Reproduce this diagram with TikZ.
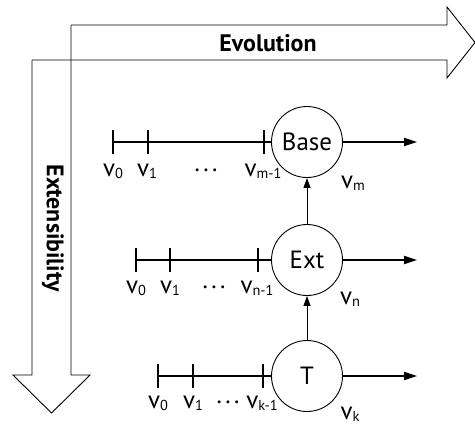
\documentclass[tikz,border=0pt]{standalone}
\usepackage{fontspec}
\setmainfont{PT Sans}
\usetikzlibrary{arrows.meta}
\newcommand{\vlab}[1]{v\raisebox{-2.5bp}{\fontsize{14.5}{14.5}\selectfont #1}}
\newcommand{\cdts}{\raisebox{5bp}{.\hspace{3.5bp}.\hspace{3.5bp}.}}
\begin{document}
\begin{tikzpicture}[x=1bp,y=-1bp,
  outline/.style={line width=0.9bp,line join=miter},
  circ/.style={circle,draw,line width=0.9bp,minimum size=71bp,inner sep=0pt,font=\fontsize{25}{25}\selectfont},
  tline/.style={line width=1.8bp},
  tick/.style={line width=1.8bp},
  outarrow/.style={line width=1.8bp,-{Triangle[length=13bp,width=8bp]}},
  uparrow/.style={line width=0.9bp,-{Triangle[length=10bp,width=7bp]}},
  vl/.style={anchor=base,font=\fontsize{25}{25}\selectfont,inner sep=0pt},
  big/.style={font=\fontsize{24}{24}\selectfont\bfseries,inner sep=0pt}
]
\useasboundingbox (0,0) rectangle (475,425);
% big arrows
\draw[outline] (71,25) -- (447,25) -- (447,7) -- (475,42.5) -- (447,78) -- (447,60) -- (32,60);
\draw[outline] (71,25) -- (71,375) -- (90,375) -- (51.5,413) -- (13,375) -- (32,375) -- (32,60);
\node[big,anchor=base] (evo) at (268,51) {Evolution};
\node[big,rotate=-90] (exts) at (53,228) {Extensibility};
% circles
\node[circ] (base) at (307,142) {Base};
\node[circ] (ext) at (307,260) {Ext};
\node[circ] (tn) at (307,376) {T};
% end coordinates
\coordinate (bend) at (417,142);
\coordinate (eend) at (417,260);
\coordinate (tend) at (417,376);
% base row
\coordinate (b0) at (113,142);
\coordinate (b1) at (148,142);
\coordinate (b2) at (264,142);
\draw[tline] (b0) -- (base.west);
\foreach \c in {b0,b1,b2} \draw[tick] ([yshift=-12bp]\c) -- ([yshift=12bp]\c);
\draw[outarrow] (base.east) -- (bend);
\node[vl] (lb0) at (113,176) {\vlab{0}};
\node[vl] (lb1) at (147,176) {\vlab{1}};
\node[vl] (lbd) at (206,176) {\cdts};
\node[vl] (lb2) at (263,176) {\vlab{m-1}};
\node[vl] (lbm) at (353,188) {\vlab{m}};
% ext row
\coordinate (e0) at (136,260);
\coordinate (e1) at (170,260);
\coordinate (e2) at (258,260);
\draw[tline] (e0) -- (ext.west);
\foreach \c in {e0,e1,e2} \draw[tick] ([yshift=-12bp]\c) -- ([yshift=12bp]\c);
\draw[outarrow] (ext.east) -- (eend);
\node[vl] (le0) at (136,293) {\vlab{0}};
\node[vl] (le1) at (170,293) {\vlab{1}};
\node[vl] (led) at (214,293) {\cdts};
\node[vl] (le2) at (257,293) {\vlab{n-1}};
\node[vl] (len) at (350,304) {\vlab{n}};
% t row
\coordinate (t0) at (158,376);
\coordinate (t1) at (193,376);
\coordinate (t2) at (263,376);
\draw[tline] (t0) -- (tn.west);
\foreach \c in {t0,t1,t2} \draw[tick] ([yshift=-12bp]\c) -- ([yshift=12bp]\c);
\draw[outarrow] (tn.east) -- (tend);
\node[vl] (lt0) at (158,408) {\vlab{0}};
\node[vl] (lt1) at (193,408) {\vlab{1}};
\node[vl] (ltd) at (228,408) {\cdts};
\node[vl] (lt2) at (262,408) {\vlab{k-1}};
\node[vl] (ltk) at (350,419) {\vlab{k}};
% vertical arrows
\draw[uparrow] (ext.north) -- (base.south);
\draw[uparrow] (tn.north) -- (ext.south);
\end{tikzpicture}
\end{document}
